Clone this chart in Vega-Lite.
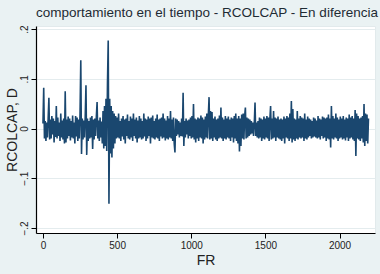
{
 "$schema": "https://vega.github.io/schema/vega-lite/v6.json",
 "width": 339, "height": 207,
 "autosize": {"type": "none"},
 "padding": {"left": 36, "top": 26, "right": 5, "bottom": 41},
 "background": "#EAF2F3",
 "title": {"text": "comportamiento en el tiempo - RCOLCAP - En diferencia", "anchor": "start", "frame": "group", "fontSize": 13.5, "font": "Liberation Sans", "fontWeight": "normal", "color": "#1e2b33", "offset": 5},
 "config": {"view": {"fill": "white", "stroke": "#e2eaec"}},
 "data": {"values": [
{"x":0,"y":0.01},{"x":5,"y":0.082},{"x":10,"y":-0.02},{"x":15,"y":0.015},{"x":20,"y":-0.025},{"x":25,"y":0.012},{"x":30,"y":-0.018},{"x":35,"y":0.02},{"x":40,"y":0.062},{"x":45,"y":-0.022},
{"x":50,"y":0.018},{"x":55,"y":-0.02},{"x":60,"y":0.025},{"x":65,"y":-0.012},{"x":70,"y":0.02},{"x":75,"y":-0.028},{"x":80,"y":0.015},{"x":85,"y":-0.017},{"x":90,"y":0.045},{"x":95,"y":-0.02},
{"x":100,"y":0.022},{"x":105,"y":-0.015},{"x":110,"y":0.012},{"x":115,"y":-0.025},{"x":120,"y":0.03},{"x":125,"y":-0.018},{"x":130,"y":0.016},{"x":135,"y":-0.022},{"x":140,"y":0.02},{"x":145,"y":-0.03},
{"x":150,"y":0.075},{"x":155,"y":-0.028},{"x":160,"y":0.018},{"x":165,"y":-0.02},{"x":170,"y":0.024},{"x":175,"y":-0.015},{"x":180,"y":0.02},{"x":185,"y":-0.024},{"x":190,"y":0.015},{"x":195,"y":-0.018},
{"x":200,"y":0.026},{"x":205,"y":-0.02},{"x":210,"y":0.012},{"x":215,"y":-0.03},{"x":220,"y":0.025},{"x":225,"y":-0.016},{"x":230,"y":0.022},{"x":235,"y":-0.025},{"x":240,"y":0.018},{"x":245,"y":-0.02},
{"x":250,"y":0.03},{"x":255,"y":0.137},{"x":260,"y":-0.051},{"x":265,"y":0.02},{"x":270,"y":-0.022},{"x":275,"y":0.016},{"x":280,"y":-0.018},{"x":285,"y":0.024},{"x":290,"y":0.087},{"x":295,"y":-0.053},
{"x":300,"y":0.02},{"x":305,"y":-0.025},{"x":310,"y":0.015},{"x":315,"y":-0.02},{"x":320,"y":0.022},{"x":325,"y":-0.018},{"x":330,"y":0.025},{"x":335,"y":-0.041},{"x":340,"y":0.018},{"x":345,"y":-0.022},
{"x":350,"y":0.02},{"x":355,"y":-0.015},{"x":360,"y":0.024},{"x":365,"y":0.053},{"x":370,"y":-0.02},{"x":375,"y":0.016},{"x":380,"y":-0.025},{"x":385,"y":0.022},{"x":390,"y":-0.018},{"x":395,"y":0.014},
{"x":400,"y":-0.03},{"x":405,"y":0.035},{"x":410,"y":-0.04},{"x":415,"y":0.045},{"x":420,"y":-0.035},{"x":425,"y":0.06},{"x":430,"y":-0.045},{"x":435,"y":0.09},{"x":440,"y":0.177},{"x":445,"y":-0.151},
{"x":450,"y":0.06},{"x":455,"y":-0.05},{"x":460,"y":0.045},{"x":465,"y":-0.058},{"x":470,"y":0.035},{"x":475,"y":-0.04},{"x":480,"y":0.03},{"x":485,"y":-0.03},{"x":490,"y":0.025},{"x":495,"y":-0.02},
{"x":500,"y":0.022},{"x":505,"y":-0.018},{"x":510,"y":0.03},{"x":515,"y":-0.02},{"x":520,"y":0.015},{"x":525,"y":-0.025},{"x":530,"y":0.02},{"x":535,"y":-0.016},{"x":540,"y":0.025},{"x":545,"y":-0.022},
{"x":550,"y":0.018},{"x":555,"y":-0.03},{"x":560,"y":0.02},{"x":565,"y":-0.015},{"x":570,"y":0.028},{"x":575,"y":-0.02},{"x":580,"y":0.015},{"x":585,"y":-0.022},{"x":590,"y":0.024},{"x":595,"y":-0.018},
{"x":600,"y":0.02},{"x":605,"y":-0.025},{"x":610,"y":0.03},{"x":615,"y":-0.015},{"x":620,"y":0.018},{"x":625,"y":-0.02},{"x":630,"y":0.022},{"x":635,"y":-0.028},{"x":640,"y":0.016},{"x":645,"y":-0.02},
{"x":650,"y":0.025},{"x":655,"y":-0.018},{"x":660,"y":0.02},{"x":665,"y":-0.022},{"x":670,"y":0.015},{"x":675,"y":-0.02},{"x":680,"y":0.03},{"x":685,"y":-0.016},{"x":690,"y":0.02},{"x":695,"y":-0.025},
{"x":700,"y":0.018},{"x":705,"y":-0.02},{"x":710,"y":0.024},{"x":715,"y":-0.015},{"x":720,"y":0.02},{"x":725,"y":-0.03},{"x":730,"y":0.022},{"x":735,"y":-0.018},{"x":740,"y":0.026},{"x":745,"y":-0.02},
{"x":750,"y":0.015},{"x":755,"y":-0.022},{"x":760,"y":0.02},{"x":765,"y":-0.018},{"x":770,"y":0.028},{"x":775,"y":-0.02},{"x":780,"y":0.018},{"x":785,"y":-0.025},{"x":790,"y":0.02},{"x":795,"y":-0.016},
{"x":800,"y":0.022},{"x":805,"y":-0.02},{"x":810,"y":0.03},{"x":815,"y":-0.018},{"x":820,"y":0.02},{"x":825,"y":-0.024},{"x":830,"y":0.016},{"x":835,"y":-0.02},{"x":840,"y":0.025},{"x":845,"y":-0.022},
{"x":850,"y":0.02},{"x":855,"y":-0.018},{"x":860,"y":0.035},{"x":865,"y":-0.02},{"x":870,"y":0.018},{"x":875,"y":-0.025},{"x":880,"y":0.022},{"x":885,"y":-0.03},{"x":890,"y":-0.048},{"x":895,"y":0.02},
{"x":900,"y":-0.015},{"x":905,"y":0.018},{"x":910,"y":-0.012},{"x":915,"y":0.015},{"x":920,"y":-0.018},{"x":925,"y":0.012},{"x":930,"y":-0.015},{"x":935,"y":0.02},{"x":940,"y":-0.016},{"x":945,"y":0.072},
{"x":950,"y":-0.035},{"x":955,"y":0.015},{"x":960,"y":-0.018},{"x":965,"y":0.02},{"x":970,"y":-0.012},{"x":975,"y":0.016},{"x":980,"y":-0.02},{"x":985,"y":0.018},{"x":990,"y":-0.015},{"x":995,"y":0.022},
{"x":1000,"y":-0.02},{"x":1005,"y":0.025},{"x":1010,"y":-0.018},{"x":1015,"y":0.049},{"x":1020,"y":-0.022},{"x":1025,"y":0.02},{"x":1030,"y":-0.028},{"x":1035,"y":0.018},{"x":1040,"y":-0.02},{"x":1045,"y":0.022},
{"x":1050,"y":-0.025},{"x":1055,"y":0.02},{"x":1060,"y":-0.018},{"x":1065,"y":0.026},{"x":1070,"y":-0.02},{"x":1075,"y":0.022},{"x":1080,"y":-0.03},{"x":1085,"y":0.018},{"x":1090,"y":-0.022},{"x":1095,"y":0.024},
{"x":1100,"y":-0.018},{"x":1105,"y":0.03},{"x":1110,"y":-0.02},{"x":1115,"y":0.025},{"x":1120,"y":0.063},{"x":1125,"y":-0.022},{"x":1130,"y":0.035},{"x":1135,"y":-0.02},{"x":1140,"y":0.033},{"x":1145,"y":-0.025},
{"x":1150,"y":0.02},{"x":1155,"y":-0.018},{"x":1160,"y":0.024},{"x":1165,"y":-0.022},{"x":1170,"y":0.018},{"x":1175,"y":-0.025},{"x":1180,"y":0.02},{"x":1185,"y":-0.02},{"x":1190,"y":0.026},{"x":1195,"y":-0.018},
{"x":1200,"y":0.042},{"x":1205,"y":-0.02},{"x":1210,"y":0.022},{"x":1215,"y":-0.025},{"x":1220,"y":0.018},{"x":1225,"y":-0.02},{"x":1230,"y":0.025},{"x":1235,"y":-0.022},{"x":1240,"y":0.02},{"x":1245,"y":-0.018},
{"x":1250,"y":0.024},{"x":1255,"y":-0.02},{"x":1260,"y":0.018},{"x":1265,"y":-0.025},{"x":1270,"y":0.022},{"x":1275,"y":-0.018},{"x":1280,"y":0.02},{"x":1285,"y":-0.028},{"x":1290,"y":0.025},{"x":1295,"y":-0.02},
{"x":1300,"y":0.03},{"x":1305,"y":-0.025},{"x":1310,"y":0.02},{"x":1315,"y":-0.03},{"x":1320,"y":0.025},{"x":1325,"y":-0.046},{"x":1330,"y":0.02},{"x":1335,"y":-0.035},{"x":1340,"y":0.028},{"x":1345,"y":-0.02},
{"x":1350,"y":0.03},{"x":1355,"y":-0.022},{"x":1360,"y":0.025},{"x":1365,"y":0.042},{"x":1370,"y":-0.02},{"x":1375,"y":0.022},{"x":1380,"y":-0.018},{"x":1385,"y":0.02},{"x":1390,"y":-0.015},{"x":1395,"y":0.018},
{"x":1400,"y":-0.012},{"x":1405,"y":0.015},{"x":1410,"y":-0.01},{"x":1415,"y":0.012},{"x":1420,"y":-0.015},{"x":1425,"y":0.01},{"x":1430,"y":0.052},{"x":1435,"y":-0.015},{"x":1440,"y":0.012},{"x":1445,"y":-0.018},
{"x":1450,"y":0.015},{"x":1455,"y":-0.02},{"x":1460,"y":0.022},{"x":1465,"y":-0.018},{"x":1470,"y":0.02},{"x":1475,"y":-0.025},{"x":1480,"y":0.018},{"x":1485,"y":-0.02},{"x":1490,"y":0.024},{"x":1495,"y":-0.022},
{"x":1500,"y":0.02},{"x":1505,"y":-0.018},{"x":1510,"y":0.025},{"x":1515,"y":-0.02},{"x":1520,"y":0.022},{"x":1525,"y":-0.025},{"x":1530,"y":0.018},{"x":1535,"y":0.045},{"x":1540,"y":-0.022},{"x":1545,"y":0.02},
{"x":1550,"y":-0.02},{"x":1555,"y":0.035},{"x":1560,"y":-0.018},{"x":1565,"y":0.022},{"x":1570,"y":-0.025},{"x":1575,"y":0.02},{"x":1580,"y":-0.018},{"x":1585,"y":0.024},{"x":1590,"y":-0.02},{"x":1595,"y":0.018},
{"x":1600,"y":-0.022},{"x":1605,"y":0.02},{"x":1610,"y":-0.025},{"x":1615,"y":0.018},{"x":1620,"y":-0.02},{"x":1625,"y":0.024},{"x":1630,"y":-0.03},{"x":1635,"y":0.02},{"x":1640,"y":-0.018},{"x":1645,"y":0.025},
{"x":1650,"y":-0.02},{"x":1655,"y":0.022},{"x":1660,"y":-0.025},{"x":1665,"y":0.03},{"x":1670,"y":-0.02},{"x":1675,"y":0.055},{"x":1680,"y":-0.028},{"x":1685,"y":0.039},{"x":1690,"y":-0.022},{"x":1695,"y":0.02},
{"x":1700,"y":-0.025},{"x":1705,"y":0.018},{"x":1710,"y":-0.02},{"x":1715,"y":0.035},{"x":1720,"y":-0.022},{"x":1725,"y":0.02},{"x":1730,"y":-0.018},{"x":1735,"y":0.025},{"x":1740,"y":-0.02},{"x":1745,"y":0.022},
{"x":1750,"y":-0.018},{"x":1755,"y":0.02},{"x":1760,"y":-0.025},{"x":1765,"y":0.03},{"x":1770,"y":-0.02},{"x":1775,"y":0.018},{"x":1780,"y":-0.022},{"x":1785,"y":0.024},{"x":1790,"y":-0.018},{"x":1795,"y":0.02},
{"x":1800,"y":-0.015},{"x":1805,"y":0.018},{"x":1810,"y":-0.02},{"x":1815,"y":0.015},{"x":1820,"y":-0.018},{"x":1825,"y":0.022},{"x":1830,"y":-0.016},{"x":1835,"y":0.02},{"x":1840,"y":-0.018},{"x":1845,"y":0.016},
{"x":1850,"y":-0.02},{"x":1855,"y":0.025},{"x":1860,"y":-0.018},{"x":1865,"y":0.02},{"x":1870,"y":-0.022},{"x":1875,"y":0.018},{"x":1880,"y":-0.015},{"x":1885,"y":0.024},{"x":1890,"y":-0.02},{"x":1895,"y":0.022},
{"x":1900,"y":-0.018},{"x":1905,"y":0.02},{"x":1910,"y":-0.025},{"x":1915,"y":0.022},{"x":1920,"y":-0.02},{"x":1925,"y":0.028},{"x":1930,"y":-0.022},{"x":1935,"y":0.02},{"x":1940,"y":-0.038},{"x":1945,"y":0.045},
{"x":1950,"y":-0.02},{"x":1955,"y":0.025},{"x":1960,"y":-0.022},{"x":1965,"y":0.02},{"x":1970,"y":-0.018},{"x":1975,"y":0.03},{"x":1980,"y":-0.02},{"x":1985,"y":0.022},{"x":1990,"y":-0.025},{"x":1995,"y":0.018},
{"x":2000,"y":-0.02},{"x":2005,"y":0.024},{"x":2010,"y":-0.018},{"x":2015,"y":0.02},{"x":2020,"y":-0.022},{"x":2025,"y":0.025},{"x":2030,"y":-0.02},{"x":2035,"y":0.018},{"x":2040,"y":-0.024},{"x":2045,"y":0.022},
{"x":2050,"y":-0.018},{"x":2055,"y":0.02},{"x":2060,"y":-0.025},{"x":2065,"y":0.028},{"x":2070,"y":-0.02},{"x":2075,"y":0.022},{"x":2080,"y":-0.018},{"x":2085,"y":0.025},{"x":2090,"y":-0.022},{"x":2095,"y":0.02},
{"x":2100,"y":-0.025},{"x":2105,"y":0.037},{"x":2110,"y":-0.055},{"x":2115,"y":0.03},{"x":2120,"y":-0.02},{"x":2125,"y":0.025},{"x":2130,"y":-0.022},{"x":2135,"y":0.02},{"x":2140,"y":-0.025},{"x":2145,"y":0.022},
{"x":2150,"y":-0.02},{"x":2155,"y":0.025},{"x":2160,"y":-0.028},{"x":2165,"y":0.049},{"x":2170,"y":-0.035},{"x":2175,"y":0.03},{"x":2180,"y":-0.025},{"x":2185,"y":0.028},{"x":2190,"y":-0.03},{"x":2195,"y":0.02}
 ]},
 "mark": {"type": "line", "color": "#1A476F", "strokeWidth": 1.6},
 "encoding": {
  "x": {"field": "x", "type": "quantitative",
   "scale": {"domain": [-47, 2239], "nice": false, "zero": false},
   "axis": {"values": [0, 500, 1000, 1500, 2000], "format": "d", "title": "FR", "grid": false, "domainColor": "black", "domainWidth": 1.2, "tickColor": "black", "tickSize": 5, "labelFont": "Liberation Sans", "labelFontSize": 10, "labelColor": "#222", "labelPadding": 2, "titleFont": "Liberation Sans", "titleFontSize": 14, "titleFontWeight": "normal", "titleColor": "#222", "titlePadding": 3}},
  "y": {"field": "y", "type": "quantitative",
   "scale": {"domain": [-0.21, 0.206], "nice": false, "zero": false},
   "axis": {"values": [-0.2, -0.1, 0, 0.1, 0.2], "labelExpr": "datum.value == 0 ? '0' : replace(format(datum.value, '.1f'), '0.', '.')", "title": "RCOLCAP, D", "grid": true, "gridColor": "#e4ecee", "domainColor": "black", "domainWidth": 1.2, "tickColor": "black", "tickSize": 5, "labelAngle": 270, "labelAlign": "center", "labelBaseline": "bottom", "labelFont": "Liberation Sans", "labelFontSize": 10, "labelColor": "#222", "labelPadding": 2, "titleFont": "Liberation Sans", "titleFontSize": 14, "titleFontWeight": "normal", "titleColor": "#222", "titlePadding": 0}}
 }
}
